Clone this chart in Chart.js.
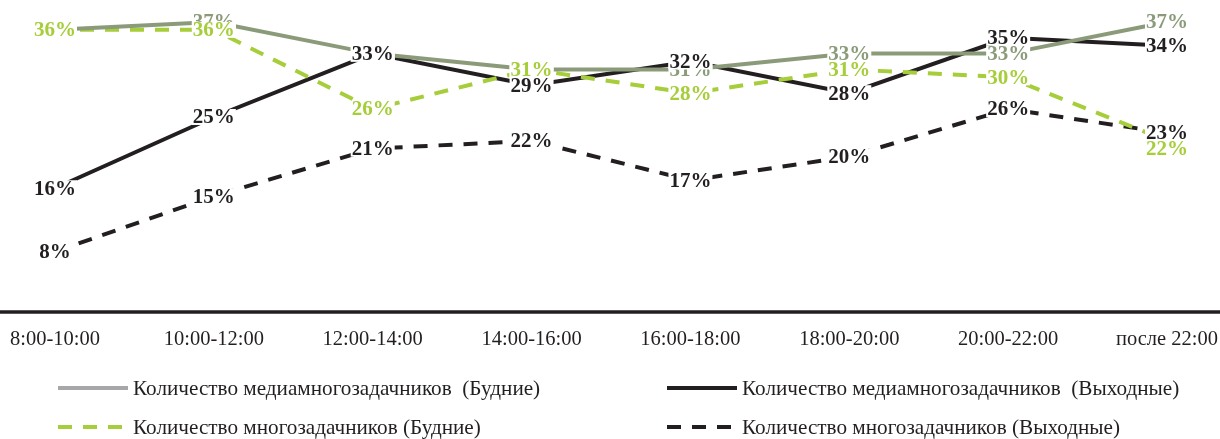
<!DOCTYPE html>
<html>
<head>
<meta charset="utf-8">
<script src="https://cdn.jsdelivr.net/npm/chart.js@4/dist/chart.umd.min.js"></script>
<style>
  html, body { margin: 0; padding: 0; background: #ffffff; }
  #wrap { width: 1220px; height: 439px; position: relative; }
</style>
</head>
<body>
<div id="wrap"><canvas id="chart"></canvas></div>
<script>
// Time slots of the day
const timeSlots = ['8:00-10:00', '10:00-12:00', '12:00-14:00', '14:00-16:00',
                   '16:00-18:00', '18:00-20:00', '20:00-22:00', 'после 22:00'];

// Share of respondents, %
const mediaWeekday = [36, 37, 33, 31, 31, 33, 33, 37];
const multiWeekday = [36, 36, 26, 31, 28, 31, 30, 22];
const mediaWeekend = [16, 25, 33, 29, 32, 28, 35, 34];
const multiWeekend = [8, 15, 21, 22, 17, 20, 26, 23];

// Series names
const seriesNames = [
  'Количество медиамногозадачников  (Будние)',
  'Количество многозадачников (Будние)',
  'Количество медиамногозадачников  (Выходные)',
  'Количество многозадачников (Выходные)'
];

const SAGE = '#8b9b7a';
const LIME = '#a6cd3a';
const INK = '#231f20';
const SERIF = '"Liberation Serif", "Times New Roman", serif';

// Value labels sitting on the points, each on a white plate that breaks the line
const pointLabels = {
  id: 'pointLabels',
  afterDatasetsDraw(chart) {
    const ctx = chart.ctx;
    ctx.save();
    ctx.font = 'bold 21px ' + SERIF;
    ctx.textAlign = 'center';
    ctx.textBaseline = 'middle';
    chart.data.datasets.forEach((ds, i) => {
      const meta = chart.getDatasetMeta(i);
      const shift = ds.labelShift || {};
      meta.data.forEach((pt, j) => {
        const txt = ds.data[j] + '%';
        const w = ctx.measureText(txt).width;
        const y = pt.y + (shift[j] || 0);
        ctx.fillStyle = '#ffffff';
        ctx.fillRect(pt.x - w / 2 - 1, y - 8, w + 2, 16);
        ctx.fillStyle = ds.labelColor;
        ctx.fillText(txt, pt.x, y + 1);
      });
    });
    ctx.restore();
  }
};

// Full-width baseline under the plot
const baseLine = {
  id: 'baseLine',
  beforeDatasetsDraw(chart) {
    const ctx = chart.ctx;
    const y = chart.chartArea.bottom - 3;
    ctx.save();
    ctx.strokeStyle = INK;
    ctx.lineWidth = 3.5;
    ctx.beginPath();
    ctx.moveTo(0, y);
    ctx.lineTo(chart.width, y);
    ctx.stroke();
    ctx.restore();
  }
};

// Two-column legend below the axis
const gridLegend = {
  id: 'gridLegend',
  afterDraw(chart) {
    const ctx = chart.ctx;
    const slots = [
      { x: 58, y: 388 }, { x: 58, y: 427 },
      { x: 667, y: 388 }, { x: 667, y: 427 }
    ];
    ctx.save();
    ctx.font = '21.2px ' + SERIF;
    ctx.textAlign = 'left';
    ctx.textBaseline = 'middle';
    chart.data.datasets.forEach((ds, i) => {
      const s = slots[i];
      ctx.strokeStyle = ds.legendColor;
      ctx.lineWidth = 4;
      ctx.setLineDash(ds.borderDash || []);
      ctx.beginPath();
      ctx.moveTo(s.x, s.y);
      ctx.lineTo(s.x + 70, s.y);
      ctx.stroke();
      ctx.setLineDash([]);
      ctx.fillStyle = INK;
      ctx.fillText(ds.label, s.x + 75, s.y + 1);
    });
    ctx.restore();
  }
};

new Chart(document.getElementById('chart'), {
  type: 'line',
  data: {
    labels: timeSlots,
    datasets: [
      { label: seriesNames[0], data: mediaWeekday, borderColor: SAGE, labelColor: SAGE,
        legendColor: '#a7a7a9' },
      { label: seriesNames[1], data: multiWeekday, borderColor: LIME, labelColor: LIME,
        legendColor: LIME, borderDash: [14, 11], labelShift: { 7: 8 } },
      { label: seriesNames[2], data: mediaWeekend, borderColor: INK, labelColor: INK,
        legendColor: INK },
      { label: seriesNames[3], data: multiWeekend, borderColor: INK, labelColor: INK,
        legendColor: INK, borderDash: [14, 11] }
    ].map(d => Object.assign({
      borderWidth: 4, pointRadius: 0, tension: 0, fill: false, borderCapStyle: 'butt'
    }, d))
  },
  options: {
    responsive: true,
    maintainAspectRatio: false,
    animation: false,
    layout: { padding: { top: 14, left: 55, right: 53, bottom: 0 } },
    plugins: { legend: { display: false }, tooltip: { enabled: false } },
    scales: {
      x: {
        offset: false,
        grid: { display: false, drawTicks: false },
        border: { display: false },
        ticks: { color: INK, font: { family: SERIF, size: 20.5 }, padding: 12,
                 maxRotation: 0, autoSkip: false },
        afterFit(scale) {
          scale.height = 124;
          scale.paddingLeft = 0;
          scale.paddingRight = 0;
        }
      },
      y: {
        display: false,
        min: 0,
        max: 38
      }
    }
  },
  plugins: [baseLine, pointLabels, gridLegend]
});
</script>
</body>
</html>
